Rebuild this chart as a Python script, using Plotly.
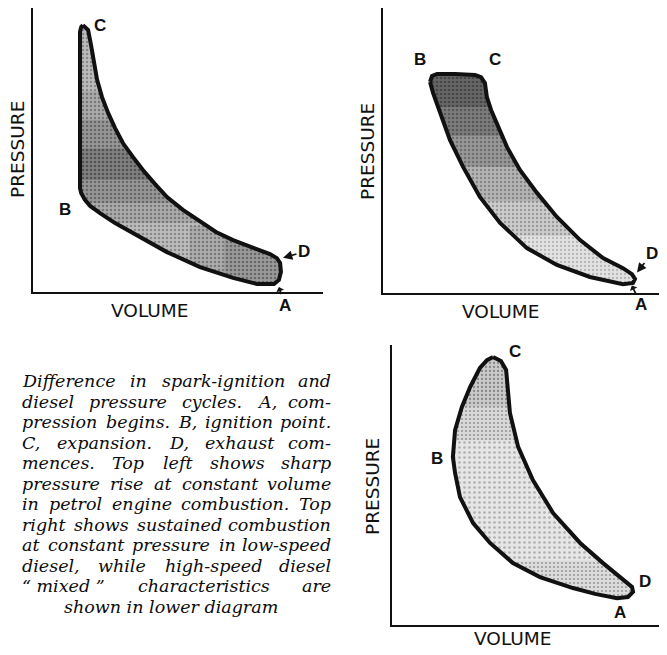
import os
import struct
import plotly.graph_objects as go

# reference canvas size; the page shows the figure with the browser's 8 px body margin
REF_W, REF_H = 667, 655
OFFSET = 8
W, H = REF_W - OFFSET, REF_H - OFFSET

# ---------------- data (arbitrary volume / pressure units, 0-10) ----------------
# Top left: spark-ignition cycle (outline C -> D -> A -> B -> C)
si_volume = [1.72, 1.90, 2.00, 2.10, 2.21, 2.38, 2.59, 2.83, 3.10, 3.45, 3.79, 4.21, 4.62,
             5.17, 5.76, 6.31, 6.90, 7.59, 8.17, 8.41, 8.52, 8.55, 8.48, 8.31, 7.72, 6.90,
             5.76, 4.62, 3.45, 2.83, 2.31, 1.97, 1.79, 1.66, 1.62, 1.62, 1.62, 1.62, 1.62,
             1.66, 1.72]
si_pressure = [9.30, 9.13, 8.61, 8.01, 7.39, 6.79, 6.24, 5.71, 5.19, 4.70, 4.25, 3.76, 3.31,
               2.86, 2.44, 2.09, 1.81, 1.53, 1.32, 1.18, 1.01, 0.70, 0.42, 0.28, 0.28, 0.49,
               0.87, 1.39, 2.06, 2.40, 2.75, 3.00, 3.21, 3.45, 3.62, 4.95, 6.69, 8.43, 9.06,
               9.23, 9.30]

# Top right: low-speed diesel, constant-pressure combustion (B -> C -> D -> A -> B)
ld_volume = [1.68, 1.75, 1.93, 2.57, 3.29, 3.50, 3.64, 3.71, 3.86, 4.07, 4.43, 4.89, 5.50,
             6.21, 7.04, 7.86, 8.57, 8.89, 9.00, 8.93, 8.57, 7.39, 6.21, 5.14, 4.18, 3.46,
             2.86, 2.39, 2.04, 1.79, 1.68]
ld_pressure = [7.38, 7.59, 7.66, 7.66, 7.62, 7.55, 7.34, 6.85, 6.40, 5.94, 5.10, 4.30, 3.50,
               2.66, 1.85, 1.22, 0.87, 0.66, 0.49, 0.35, 0.31, 0.56, 0.98, 1.57, 2.45, 3.36,
               4.41, 5.35, 6.29, 6.99, 7.38]

# Bottom: high-speed diesel, "mixed" cycle (C -> D -> A -> B -> C)
hd_volume = [3.70, 3.99, 4.18, 4.25, 4.32, 4.62, 5.16, 5.90, 6.89, 7.73, 8.46, 8.79, 8.83,
             8.64, 8.24, 7.44, 6.63, 5.42, 4.43, 3.59, 2.97, 2.49, 2.31, 2.23, 2.31, 2.56,
             2.86, 3.22, 3.48, 3.70]
hd_pressure = [9.57, 9.43, 9.11, 8.39, 7.57, 6.36, 5.18, 4.00, 2.93, 2.21, 1.61, 1.36, 1.18,
               1.00, 0.96, 1.11, 1.32, 1.71, 2.21, 2.93, 3.64, 4.57, 5.43, 6.00, 6.96, 7.79,
               8.50, 9.18, 9.46, 9.57]

# point labels: text, volume, pressure
si_labels = ["C", "B"]
si_label_v = [2.31, 1.10]
si_label_p = [9.30, 2.86]
si_arrow_labels = ["D", "A"]
si_arrow_v = [8.62, 8.48]
si_arrow_p = [1.19, 0.17]

ld_labels = ["B", "C"]
ld_label_v = [1.32, 4.00]
ld_label_p = [8.15, 8.15]
ld_arrow_labels = ["D", "A"]
ld_arrow_v = [9.07, 8.89]
ld_arrow_p = [0.72, 0.26]

hd_labels = ["C", "B", "D", "A"]
hd_label_v = [4.51, 1.65, 9.27, 8.35]
hd_label_p = [9.75, 5.96, 1.54, 0.43]

axis_x_title = "VOLUME"
axis_y_title = "PRESSURE"

caption_lines = [
    "Difference in spark-ignition and",
    "diesel pressure cycles. A, com-",
    "pression begins. B, ignition point.",
    "C, expansion. D, exhaust com-",
    "mences. Top left shows sharp",
    "pressure rise at constant volume",
    "in petrol engine combustion. Top",
    "right shows sustained combustion",
    "at constant pressure in low-speed",
    "diesel, while high-speed diesel",
    "\u201c\u00a0mixed\u00a0\u201d characteristics are",
    "shown in lower diagram",
]


# ---------------- helpers ----------------
def px_x(px):
    return min(1.0, max(0.0, (px - OFFSET) / W))


def px_y(py):
    return min(1.0, max(0.0, 1 - (py - OFFSET) / H))


CAP_FONT = "DejaVu Serif"
CAP_SIZE = 17.5


def find_font(name):
    for root in ["/usr/share/fonts", "/usr/local/share/fonts",
                 os.path.expanduser("~/.fonts"), os.path.expanduser("~/.local/share/fonts")]:
        for dp, dn, fn in os.walk(root):
            if name in fn:
                return os.path.join(dp, name)
    return None


def load_width_fn(path):
    data = open(path, "rb").read()
    num = struct.unpack(">H", data[4:6])[0]
    tables = {}
    for i in range(num):
        tag, _cs, off, _ln = struct.unpack(">4sIII", data[12 + 16 * i:28 + 16 * i])
        tables[tag.decode("latin1")] = off
    upem = struct.unpack(">H", data[tables["head"] + 18:tables["head"] + 20])[0]
    nhm = struct.unpack(">H", data[tables["hhea"] + 34:tables["hhea"] + 36])[0]
    hm = tables["hmtx"]
    adv = [struct.unpack(">H", data[hm + 4 * i:hm + 4 * i + 2])[0] for i in range(nhm)]
    cm = tables["cmap"]
    ntab = struct.unpack(">H", data[cm + 2:cm + 4])[0]
    sub = None
    for i in range(ntab):
        pid, eid, off = struct.unpack(">HHI", data[cm + 4 + 8 * i:cm + 12 + 8 * i])
        fmt = struct.unpack(">H", data[cm + off:cm + off + 2])[0]
        if pid == 3 and eid == 1 and fmt == 4:
            sub = cm + off
    seg2 = struct.unpack(">H", data[sub + 6:sub + 8])[0]
    seg = seg2 // 2
    ends = struct.unpack(">%dH" % seg, data[sub + 14:sub + 14 + seg2])
    so = sub + 16 + seg2
    starts = struct.unpack(">%dH" % seg, data[so:so + seg2])
    do = so + seg2
    deltas = struct.unpack(">%dh" % seg, data[do:do + seg2])
    ro = do + seg2
    ros = struct.unpack(">%dH" % seg, data[ro:ro + seg2])

    def gid(c):
        for i in range(seg):
            if ends[i] >= c:
                if starts[i] > c:
                    return 0
                if ros[i] == 0:
                    return (c + deltas[i]) & 0xFFFF
                a = ro + 2 * i + ros[i] + 2 * (c - starts[i])
                g = struct.unpack(">H", data[a:a + 2])[0]
                return (g + deltas[i]) & 0xFFFF if g else 0
        return 0

    def width(s):
        return sum(adv[min(gid(ord(ch)), nhm - 1)] for ch in s) / upem

    return width


try:
    text_width_em = load_width_fn(find_font("DejaVuSerif-Italic.ttf"))
except Exception:
    def text_width_em(s):
        return sum(0.32 if ch in " .,\u00a0" else 0.58 for ch in s)


def clip(xs, ys, a, b, c):
    """Keep the part of a polygon where a*x + b*y + c >= 0."""
    pts = list(zip(xs, ys))
    out = []
    n = len(pts)
    for i in range(n):
        p, q = pts[i], pts[(i + 1) % n]
        fp = a * p[0] + b * p[1] + c
        fq = a * q[0] + b * q[1] + c
        if fp >= 0:
            out.append(p)
        if (fp >= 0) != (fq >= 0):
            t = fp / (fp - fq)
            out.append((p[0] + t * (q[0] - p[0]), p[1] + t * (q[1] - p[1])))
    if not out:
        return [], []
    out.append(out[0])
    return [p[0] for p in out], [p[1] for p in out]


def region(xs, ys, ymin=None, ymax=None, xmin=None, xmax=None):
    if ymin is not None:
        xs, ys = clip(xs, ys, 0, 1, -ymin)
    if ymax is not None and xs:
        xs, ys = clip(xs, ys, 0, -1, ymax)
    if xmin is not None and xs:
        xs, ys = clip(xs, ys, 1, 0, -xmin)
    if xmax is not None and xs:
        xs, ys = clip(xs, ys, -1, 0, xmax)
    return xs, ys


fig = go.Figure()


def shade(xs, ys, ax, bg, fg, size=4, solidity=0.3):
    if not xs:
        return
    fig.add_trace(go.Scatter(
        x=xs, y=ys, xaxis=ax[0], yaxis=ax[1], mode="lines", fill="toself",
        line=dict(width=0, color="rgba(0,0,0,0)"),
        fillpattern=dict(shape=".", bgcolor=bg, fgcolor=fg, size=size, solidity=solidity),
        hoverinfo="skip", showlegend=False))


def outline(xs, ys, ax):
    fig.add_trace(go.Scatter(
        x=xs, y=ys, xaxis=ax[0], yaxis=ax[1], mode="lines",
        line=dict(width=4, color="#111111"), hoverinfo="skip", showlegend=False))


# top left
A1 = ("x", "y")
shade(si_volume, si_pressure, A1, "#bcbcbc", "#555555", 4, 0.3)
shade(*region(si_volume, si_pressure, ymin=2.4, ymax=7.0), A1, "#ababab", "#444444", 4, 0.32)
shade(*region(si_volume, si_pressure, ymin=3.1, ymax=6.0), A1, "#989898", "#363636", 4, 0.34)
shade(*region(si_volume, si_pressure, ymin=3.9, ymax=5.0), A1, "#808080", "#262626", 4, 0.36)
shade(*region(si_volume, si_pressure, xmin=5.4, ymax=2.3), A1, "#acacac", "#444444", 4, 0.32)
shade(*region(si_volume, si_pressure, xmin=6.6, ymax=2.0), A1, "#9a9a9a", "#363636", 4, 0.34)
outline(si_volume, si_pressure, A1)

# top right
A2 = ("x2", "y2")
shade(ld_volume, ld_pressure, A2, "#e2e2e2", "#8a8a8a", 4, 0.25)
shade(*region(ld_volume, ld_pressure, ymin=2.0), A2, "#cccccc", "#666666", 4, 0.28)
shade(*region(ld_volume, ld_pressure, ymin=3.2), A2, "#b4b4b4", "#555555", 4, 0.3)
shade(*region(ld_volume, ld_pressure, ymin=4.4), A2, "#989898", "#444444", 4, 0.32)
shade(*region(ld_volume, ld_pressure, ymin=5.5), A2, "#7c7c7c", "#333333", 4, 0.34)
shade(*region(ld_volume, ld_pressure, ymin=6.5), A2, "#666666", "#262626", 4, 0.36)
outline(ld_volume, ld_pressure, A2)

# bottom
A3 = ("x3", "y3")
shade(hd_volume, hd_pressure, A3, "#e6e6e6", "#777777", 5, 0.22)
shade(*region(hd_volume, hd_pressure, ymin=6.6), A3, "#d8d8d8", "#555555", 4, 0.24)
shade(*region(hd_volume, hd_pressure, ymin=7.8), A3, "#cacaca", "#444444", 4, 0.26)
shade(*region(hd_volume, hd_pressure, ymax=2.3), A3, "#dcdcdc", "#555555", 4, 0.24)
outline(hd_volume, hd_pressure, A3)

annotations = []
LBL_FONT = dict(family="Liberation Sans, Arial, sans-serif", size=17, color="#111111", weight="bold")
AX_FONT = dict(family="DejaVu Sans, sans-serif", size=18.5, color="#111111")


def labels(texts, vs, ps, xr, yr):
    for t, v, p in zip(texts, vs, ps):
        annotations.append(dict(text=t, x=v, y=p, xref=xr, yref=yr, showarrow=False,
                                font=LBL_FONT, xanchor="center", yanchor="middle"))


def arrow_labels(texts, vs, ps, offs, xr, yr):
    for t, v, p, (dx, dy, head) in zip(texts, vs, ps, offs):
        annotations.append(dict(text=t, x=v, y=p, xref=xr, yref=yr, showarrow=True,
                                ax=dx, ay=dy, arrowhead=head,
                                arrowsize=1.1 if head == 2 else 0.8,
                                arrowwidth=1.7, arrowcolor="#111111", standoff=0,
                                font=LBL_FONT))


labels(si_labels, si_label_v, si_label_p, "x", "y")
arrow_labels(si_arrow_labels, si_arrow_v, si_arrow_p, [(21, -6, 2), (6, 18, 1)], "x", "y")
labels(ld_labels, ld_label_v, ld_label_p, "x2", "y2")
arrow_labels(ld_arrow_labels, ld_arrow_v, ld_arrow_p, [(15, -19, 2), (9, 19, 1)], "x2", "y2")
labels(hd_labels, hd_label_v, hd_label_p, "x3", "y3")

# axis titles
for xr, yr, vx, py, dy, dx in [("x", "y", 4.03, 4.95, -18, -15),
                               ("x2", "y2", 4.18, 4.93, -18, -16),
                               ("x3", "y3", 4.43, 4.93, -13, -19)]:
    annotations.append(dict(text=axis_x_title, x=vx, y=0, xref=xr, yref=yr + " domain",
                            yshift=dy, showarrow=False, font=AX_FONT, yanchor="middle",
                            borderpad=0))
    annotations.append(dict(text=axis_y_title, x=0, y=py, xref=xr + " domain", yref=yr,
                            xshift=dx, showarrow=False, font=AX_FONT, textangle=-90,
                            xanchor="center", yanchor="middle", borderpad=0))

# justified italic caption, placed word by word
CAP_X0, CAP_X1, CAP_LAST_CX = 21, 332, 171
CAP_Y0, CAP_DY = 381, 20.5
cap_font = dict(family=CAP_FONT, size=CAP_SIZE, color="#0c0c0c", style="italic")
for i, line in enumerate(caption_lines):
    yc = px_y(CAP_Y0 + i * CAP_DY)
    words = line.split(" ")
    if i == len(caption_lines) - 1:
        annotations.append(dict(text=line, x=px_x(CAP_LAST_CX), y=yc, xref="paper",
                                yref="paper", showarrow=False, font=cap_font,
                                xanchor="center", yanchor="middle", borderpad=0))
        continue
    widths = [text_width_em(w) * CAP_SIZE for w in words]
    gap = (CAP_X1 - CAP_X0 - sum(widths)) / (len(words) - 1)
    xpos = CAP_X0
    for j, (w, wd) in enumerate(zip(words, widths)):
        last = j == len(words) - 1
        annotations.append(dict(text=w, x=px_x(CAP_X1 if last else xpos), y=yc,
                                xref="paper", yref="paper", showarrow=False, font=cap_font,
                                xanchor="right" if last else "left", yanchor="middle",
                                borderpad=0))
        xpos += wd + gap

axis_common = dict(showline=True, linecolor="#111111", linewidth=2, showgrid=False,
                   zeroline=False, showticklabels=False, ticks="",
                   fixedrange=True)

# top-left y axis would start above the visible page; keep its scale (28.7 px / unit)
TL_TOP = max(5, OFFSET)
tl_ymax = 10 * (292 - TL_TOP) / (292 - 5)

fig.update_layout(
    width=W, height=H, margin=dict(l=0, r=0, t=0, b=0),
    paper_bgcolor="white", plot_bgcolor="white", showlegend=False,
    xaxis=dict(axis_common, domain=[px_x(33), px_x(323)], anchor="y", range=[0, 10]),
    yaxis=dict(axis_common, domain=[px_y(292), px_y(TL_TOP)], anchor="x", range=[0, tl_ymax]),
    xaxis2=dict(axis_common, domain=[px_x(383), px_x(663)], anchor="y2", range=[0, 10]),
    yaxis2=dict(axis_common, domain=[px_y(293), px_y(8)], anchor="x2",
                range=[0, 10 * (293 - 8) / (293 - 7)]),
    xaxis3=dict(axis_common, domain=[px_x(392), px_x(665)], anchor="y3", range=[0, 10]),
    yaxis3=dict(axis_common, domain=[px_y(625), px_y(345)], anchor="x3", range=[0, 10]),
    annotations=annotations,
)

fig.write_html("out.html")
